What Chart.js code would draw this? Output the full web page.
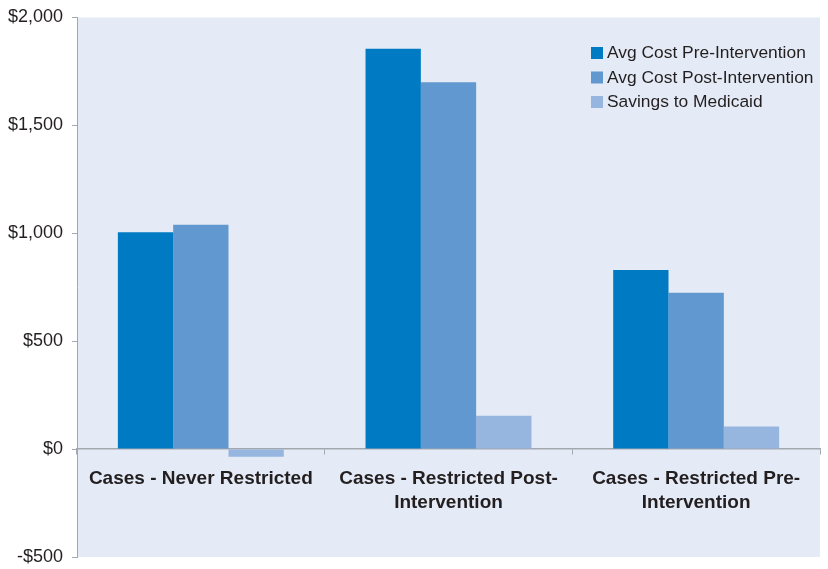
<!DOCTYPE html>
<html>
<head>
<meta charset="utf-8">
<script src="https://cdn.jsdelivr.net/npm/chart.js@4"></script>
<style>
html,body{margin:0;padding:0;background:#fff;}
#wrap{width:828px;height:569px;}
</style>
</head>
<body>
<div id="wrap"><canvas id="c" width="828" height="569"></canvas></div>
<script>
const categories = [
  "Cases - Never Restricted",
  ["Cases - Restricted Post-", "Intervention"],
  ["Cases - Restricted Pre-", "Intervention"]
];
const seriesNames = ["Avg Cost Pre-Intervention", "Avg Cost Post-Intervention", "Savings to Medicaid"];
const preValues = [1005, 1855, 830];
const postValues = [1040, 1700, 725];
const savingsValues = [-35, 155, 105];
const yTicks = [-500, 0, 500, 1000, 1500, 2000];
const colors = ["#007AC2", "#6198D0", "#96B6DF"];

const bgPlugin = {
  id: 'bg',
  beforeDraw(chart) {
    const {ctx, chartArea: a} = chart;
    ctx.save();
    ctx.fillStyle = '#E4EBF6';
    ctx.fillRect(a.left, a.top, a.right - a.left, a.bottom - a.top);
    ctx.restore();
  }
};

const legendPlugin = {
  id: 'customLegend',
  afterDraw(chart) {
    const ctx = chart.ctx;
    ctx.save();
    ctx.font = '17.4px "Liberation Sans", Arial, sans-serif';
    ctx.textBaseline = 'middle';
    ctx.textAlign = 'left';
    chart.data.datasets.forEach((ds, i) => {
      const y = 53 + i * 24.5;
      ctx.fillStyle = ds.backgroundColor;
      ctx.fillRect(591, y - 6, 12, 12);
      ctx.fillStyle = '#231F20';
      ctx.fillText(ds.label, 607, y + 0.5);
    });
    ctx.restore();
  }
};

function zeroPad(scale) {
  scale.paddingTop = 0;
  scale.paddingBottom = 0;
  scale.paddingLeft = 0;
  scale.paddingRight = 0;
}

new Chart(document.getElementById('c'), {
  type: 'bar',
  data: {
    labels: categories,
    datasets: [
      {label: seriesNames[0], data: preValues, backgroundColor: colors[0]},
      {label: seriesNames[1], data: postValues, backgroundColor: colors[1]},
      {label: seriesNames[2], data: savingsValues, backgroundColor: colors[2]}
    ]
  },
  options: {
    responsive: false,
    animation: false,
    devicePixelRatio: 1,
    layout: {padding: {top: 17.5, right: 8, bottom: 12, left: 0}},
    datasets: {bar: {categoryPercentage: 0.67, barPercentage: 1.0, borderWidth: 0}},
    plugins: {legend: {display: false}, tooltip: {enabled: false}},
    scales: {
      x: {
        position: {y: 0},
        afterFit(scale) { scale.height = 0; zeroPad(scale); },
        grid: {display: true, drawOnChartArea: false, drawTicks: true, tickLength: 5, color: '#A3A7AE', offset: true},
        border: {display: true, color: '#A3A7AE', width: 1.5},
        ticks: {
          color: '#231F20',
          padding: 13,
          maxRotation: 0,
          autoSkip: false,
          font: {family: '"Liberation Sans", Arial, sans-serif', size: 19, weight: 'bold', lineHeight: 1.25}
        }
      },
      y: {
        min: -500,
        max: 2000,
        afterFit(scale) { scale.width = 77; zeroPad(scale); },
        afterBuildTicks(scale) { scale.ticks = yTicks.map(v => ({value: v})); },
        grid: {display: true, drawOnChartArea: false, drawTicks: true, tickLength: 5, color: '#A3A7AE'},
        border: {display: true, color: '#A3A7AE', width: 1},
        ticks: {
          color: '#231F20',
          padding: 9,
          font: {family: '"Liberation Sans", Arial, sans-serif', size: 18},
          callback(v) {
            const s = '$' + Math.abs(v).toLocaleString('en-US');
            return v < 0 ? '-' + s : s;
          }
        }
      }
    }
  },
  plugins: [bgPlugin, legendPlugin]
});
</script>
</body>
</html>
